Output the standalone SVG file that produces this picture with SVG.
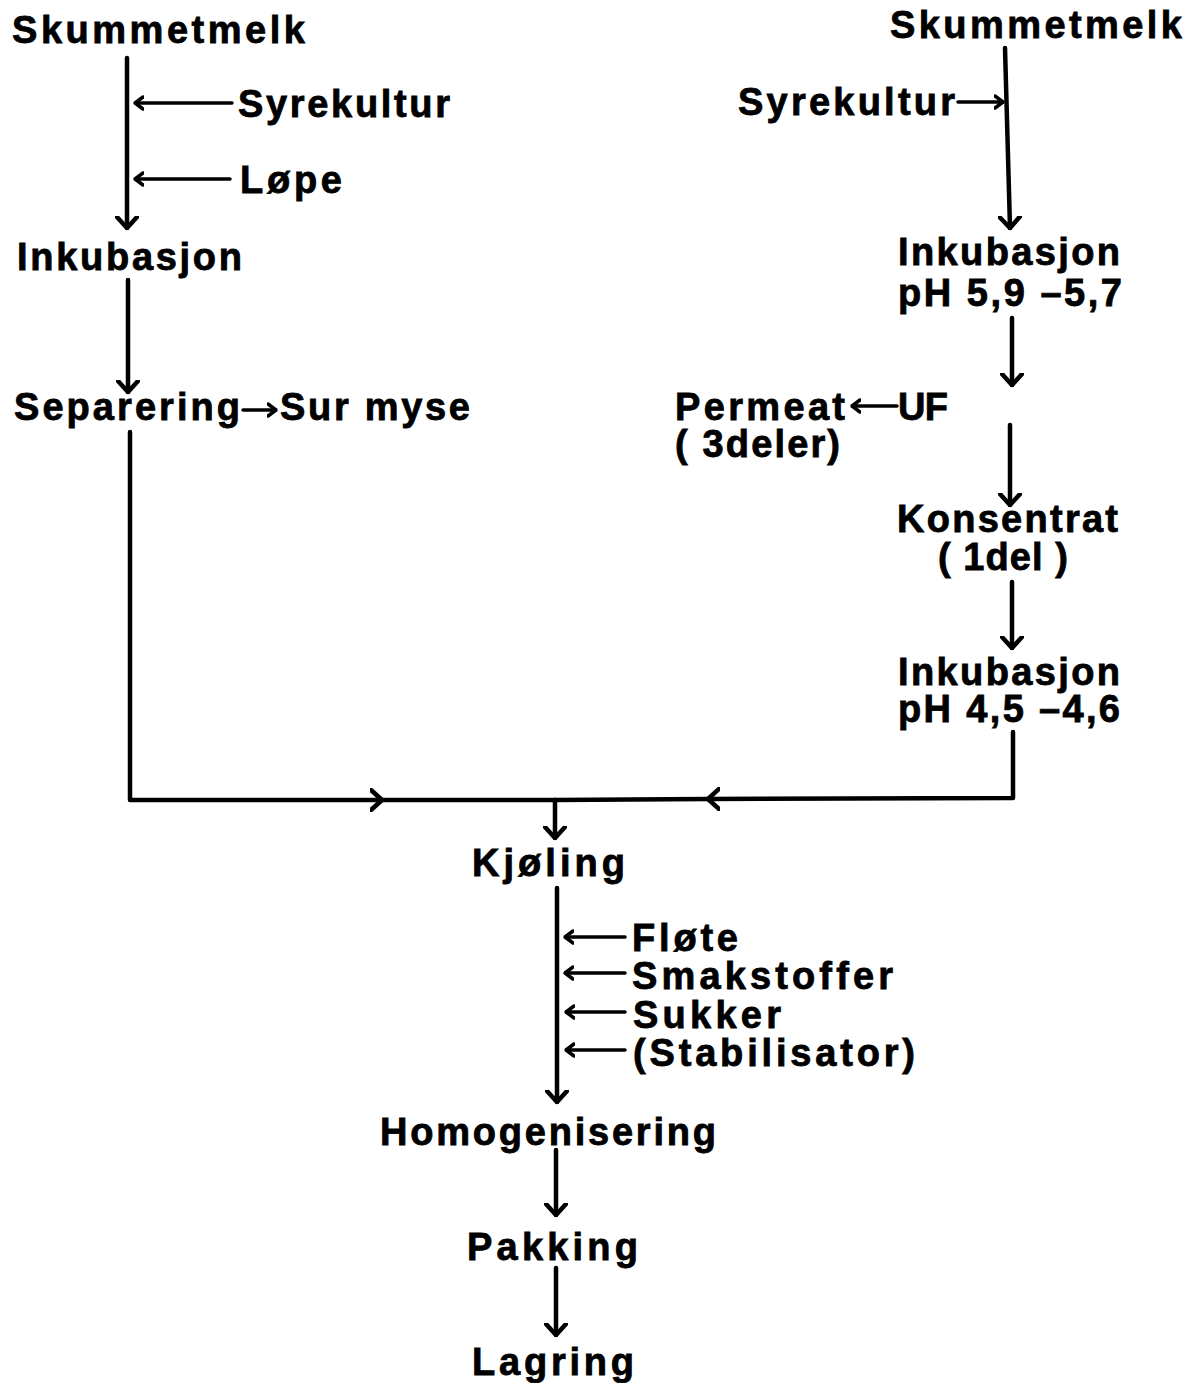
<svg xmlns="http://www.w3.org/2000/svg" width="1201" height="1383" viewBox="0 0 1201 1383">
<style>
text{font-family:"Liberation Sans",Arial,sans-serif;font-weight:bold;font-size:38px;fill:#000;stroke:#000;stroke-width:0.8}
.c{fill:none;stroke:#000;stroke-width:4.5;stroke-linecap:round;stroke-linejoin:round}
.s{fill:none;stroke:#000;stroke-width:3.5;stroke-linecap:round}
</style>
<defs>
<marker id="big" viewBox="0 0 14 24" refX="12" refY="12" markerWidth="14" markerHeight="24" markerUnits="userSpaceOnUse" orient="auto"><path d="M1,2 L12,12 L1,22" fill="none" stroke="#000" stroke-width="4.5" stroke-linecap="round" stroke-linejoin="round"/></marker>
<marker id="sm" viewBox="0 0 10 16" refX="9" refY="8" markerWidth="10" markerHeight="16" markerUnits="userSpaceOnUse" orient="auto"><path d="M1,2 L9,8 L1,14" fill="none" stroke="#000" stroke-width="3.5" stroke-linecap="round" stroke-linejoin="round"/></marker>
</defs>
<rect width="1201" height="1383" fill="#fff"/>
<g id="nodes">
<g id="n-skum-l"><text x="12" y="43" textLength="293" lengthAdjust="spacing">Skummetmelk</text></g>
<g id="n-syre-l"><text x="238" y="117" textLength="212" lengthAdjust="spacing">Syrekultur</text></g>
<g id="n-lope"><text x="240" y="193" textLength="102" lengthAdjust="spacing">Løpe</text></g>
<g id="n-inkub-l"><text x="17" y="270" textLength="225" lengthAdjust="spacing">Inkubasjon</text></g>
<g id="n-sep"><text x="14" y="420" textLength="226" lengthAdjust="spacing">Separering</text></g>
<g id="n-surmyse"><text x="280" y="420" textLength="190" lengthAdjust="spacing">Sur myse</text></g>
<g id="n-skum-r"><text x="890" y="38" textLength="292" lengthAdjust="spacing">Skummetmelk</text></g>
<g id="n-syre-r"><text x="738" y="115" textLength="217" lengthAdjust="spacing">Syrekultur</text></g>
<g id="n-inkub-r1"><text x="898" y="265" textLength="222" lengthAdjust="spacing">Inkubasjon</text><text x="898" y="306" textLength="224" lengthAdjust="spacing">pH 5,9 –5,7</text></g>
<g id="n-uf"><text x="898" y="420" textLength="50" lengthAdjust="spacing">UF</text></g>
<g id="n-permeat"><text x="675" y="420" textLength="170" lengthAdjust="spacing">Permeat</text><text x="675" y="457" textLength="165" lengthAdjust="spacing">( 3deler)</text></g>
<g id="n-kons"><text x="897" y="532" textLength="221" lengthAdjust="spacing">Konsentrat</text><text x="938" y="570" textLength="130" lengthAdjust="spacing">( 1del )</text></g>
<g id="n-inkub-r2"><text x="898" y="685" textLength="222" lengthAdjust="spacing">Inkubasjon</text><text x="898" y="722" textLength="222" lengthAdjust="spacing">pH 4,5 –4,6</text></g>
<g id="n-kjol"><text x="472" y="876" textLength="153" lengthAdjust="spacing">Kjøling</text></g>
<g id="n-flote"><text x="632" y="951" textLength="106" lengthAdjust="spacing">Fløte</text></g>
<g id="n-smak"><text x="632" y="989" textLength="261" lengthAdjust="spacing">Smakstoffer</text></g>
<g id="n-sukker"><text x="633" y="1028" textLength="148" lengthAdjust="spacing">Sukker</text></g>
<g id="n-stab"><text x="633" y="1066" textLength="282" lengthAdjust="spacing">(Stabilisator)</text></g>
<g id="n-homo"><text x="380" y="1145" textLength="336" lengthAdjust="spacing">Homogenisering</text></g>
<g id="n-pakk"><text x="467" y="1260" textLength="171" lengthAdjust="spacing">Pakking</text></g>
<g id="n-lagr"><text x="472" y="1375" textLength="162" lengthAdjust="spacing">Lagring</text></g>
</g>
<g id="connectors">
<path class="c" d="M127,58 L127,228" marker-end="url(#big)"/>
<path class="s" d="M232,103 L135,103" marker-end="url(#sm)"/>
<path class="s" d="M230,179 L135,179" marker-end="url(#sm)"/>
<path class="c" d="M128,280 L128,392" marker-end="url(#big)"/>
<path class="s" d="M243,410 L276,410" marker-end="url(#sm)"/>
<path class="c" d="M130,432 L130,800 L382,800" marker-end="url(#big)"/>
<path class="c" d="M382,800 L555,800"/>
<path class="c" d="M1013,732 L1013,798 L708,799" marker-end="url(#big)"/>
<path class="c" d="M708,799 L555,800"/>
<path class="c" d="M555,800 L555,838" marker-end="url(#big)"/>
<path class="c" d="M1005,48 L1010,228" marker-end="url(#big)"/>
<path class="s" d="M958,102 L1003,102" marker-end="url(#sm)"/>
<path class="c" d="M1012,318 L1012,385" marker-end="url(#big)"/>
<path class="s" d="M897,406 L852,406" marker-end="url(#sm)"/>
<path class="c" d="M1010,425 L1010,505" marker-end="url(#big)"/>
<path class="c" d="M1012,582 L1012,648" marker-end="url(#big)"/>
<path class="c" d="M557,888 L557,1102" marker-end="url(#big)"/>
<path class="s" d="M625,937 L565,937" marker-end="url(#sm)"/>
<path class="s" d="M625,973 L565,973" marker-end="url(#sm)"/>
<path class="s" d="M625,1012 L566,1012" marker-end="url(#sm)"/>
<path class="s" d="M625,1050 L566,1050" marker-end="url(#sm)"/>
<path class="c" d="M556,1150 L556,1215" marker-end="url(#big)"/>
<path class="c" d="M556,1268 L556,1335" marker-end="url(#big)"/>
</g>
</svg>
